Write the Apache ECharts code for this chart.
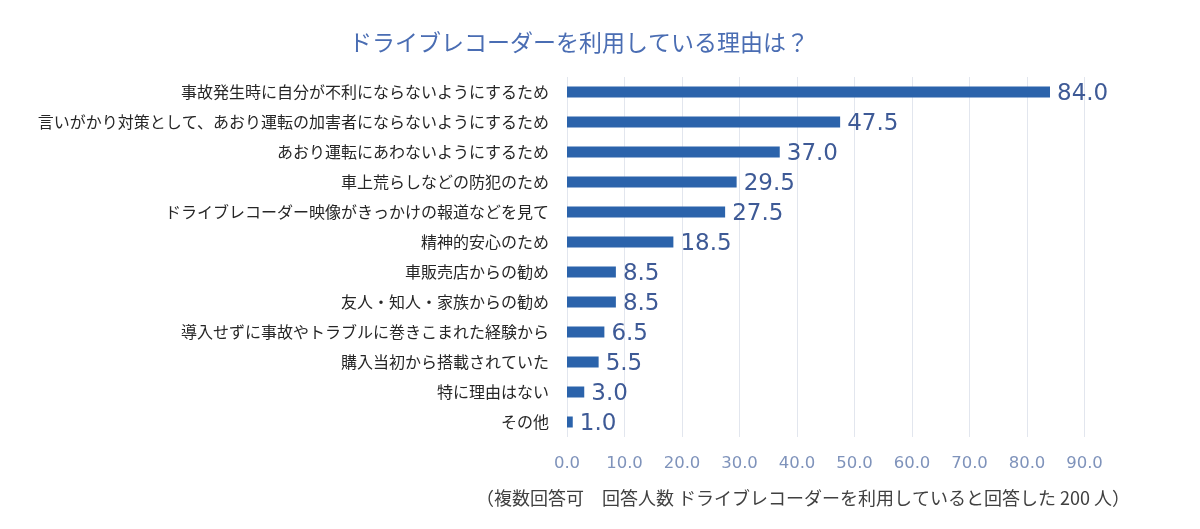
<!DOCTYPE html>
<html><head><meta charset="utf-8">
<script src="https://cdn.jsdelivr.net/npm/echarts@6/dist/echarts.min.js"></script>
<style>html,body{margin:0;padding:0;background:#fff}#c{width:1200px;height:529px}</style>
</head><body><div id="c"></div>
<script>
const categories = [
  "事故発生時に自分が不利にならないようにするため",
  "言いがかり対策として、あおり運転の加害者にならないようにするため",
  "あおり運転にあわないようにするため",
  "車上荒らしなどの防犯のため",
  "ドライブレコーダー映像がきっかけの報道などを見て",
  "精神的安心のため",
  "車販売店からの勧め",
  "友人・知人・家族からの勧め",
  "導入せずに事故やトラブルに巻きこまれた経験から",
  "購入当初から搭載されていた",
  "特に理由はない",
  "その他"
];
const values = [84.0, 47.5, 37.0, 29.5, 27.5, 18.5, 8.5, 8.5, 6.5, 5.5, 3.0, 1.0];
const titleText = "ドライブレコーダーを利用している理由は？";
const footText = "（複数回答可　回答人数 ドライブレコーダーを利用していると回答した 200 人）";
const font = "'Noto Sans CJK JP', 'Noto Sans', sans-serif";
const numFont = "'DejaVu Sans', 'Noto Sans CJK JP', sans-serif";

const chart = echarts.init(document.getElementById('c'));
chart.setOption({
  animation: false,
  title: [
    {text: titleText, left: 574, top: 26, textAlign: 'center',
     textStyle: {fontFamily: font, fontSize: 23, fontWeight: 'normal', color: '#4a6db3'}},
    {text: footText, left: 798, top: 484, textAlign: 'center',
     textStyle: {fontFamily: font, fontSize: 18, fontWeight: 'normal', color: '#404040'}}
  ],
  grid: {left: 567, right: 115.5, top: 77, bottom: 92, containLabel: false},
  xAxis: {
    type: 'value', min: 0, max: 90, interval: 10,
    axisLine: {show: false}, axisTick: {show: false},
    splitLine: {show: true, lineStyle: {color: '#e2e6ee', width: 1}},
    axisLabel: {formatter: v => v.toFixed(1), color: '#7f93bb', fontSize: 16.5, fontFamily: numFont, margin: 18}
  },
  yAxis: {
    type: 'category', data: categories, inverse: true,
    axisLine: {show: false}, axisTick: {show: false},
    axisLabel: {color: '#262626', fontSize: 16, fontFamily: font, margin: 18}
  },
  series: [{
    type: 'bar', data: values, barWidth: 11,
    itemStyle: {color: '#2b63ab'},
    label: {show: true, position: 'right', distance: 7, offset: [0, 2], formatter: p => p.value.toFixed(1),
      color: '#3e5a96', fontSize: 23, fontFamily: numFont}
  }]
});
</script></body></html>
